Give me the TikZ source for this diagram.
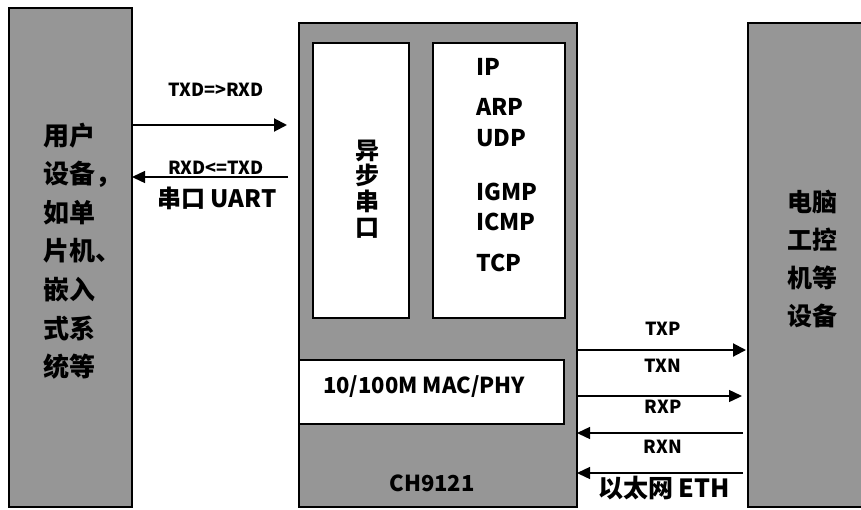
\documentclass[tikz,border=0pt]{standalone}
\usepackage{fontspec}
\setmainfont{Noto Sans CJK SC}
\usetikzlibrary{arrows.meta}
\definecolor{boxgray}{RGB}{150,150,150}
\begin{document}
\begin{tikzpicture}[x=1pt,y=-1pt,
  box/.style={draw=black,line width=2pt,anchor=north west,inner sep=0pt,outer sep=0pt},
  graybox/.style={box,fill=boxgray},
  whitebox/.style={box,fill=white},
  lab/.style={inner sep=0pt,font=\bfseries\fontsize{#1}{#1}\selectfont,text height=0.72em,text depth=0pt},
  cjk/.style={inner sep=0pt,font=\bfseries\fontsize{#1}{#1}\selectfont},
  thick arrow/.style={line width=2pt,-{Triangle[length=13pt,width=13pt]}},
  thin arrow/.style={line width=1.4pt,-{Triangle[length=13pt,width=12pt]}}
]
\useasboundingbox (0,0) rectangle (861,509);
\fill[white] (0,0) rectangle (861,509);
% boxes
\node[graybox,minimum width=123pt,minimum height=499pt] (user) at (9,8) {};
\node[graybox,minimum width=278pt,minimum height=484pt] (chip) at (299,23) {};
\node[whitebox,minimum width=96pt,minimum height=275pt] (uart) at (313,43) {};
\node[whitebox,minimum width=132pt,minimum height=275pt] (proto) at (433,43) {};
\node[whitebox,minimum width=265pt,minimum height=64pt] (mac) at (299,360) {};
\node[graybox,minimum width=130pt,minimum height=484pt] (pc) at (748,23) {};
% texts in boxes
\node[inner sep=0pt,font=\bfseries\fontsize{26}{38.6}\selectfont,anchor=west,align=left] (usertxt) at (43,251)
  {用户\\设备，\\如单\\片机、\\嵌入\\式系\\统等};
\node[inner sep=0pt,font=\bfseries\fontsize{25}{37.7}\selectfont,align=center] (pctxt) at (812,259)
  {电脑\\工控\\机等\\设备};
\node[inner sep=0pt,font=\bfseries\fontsize{24}{25.7}\selectfont,align=center] (uarttxt) at (367,189)
  {异\\步\\串\\口};
\node[lab=23,anchor=west] (ip) at (476,72) {IP};
\node[lab=23,anchor=west] (arp) at (476,112) {ARP};
\node[lab=23,anchor=west] (udp) at (476,143) {UDP};
\node[lab=23,anchor=west] (igmp) at (476,197) {IGMP};
\node[lab=23,anchor=west] (icmp) at (476,227) {ICMP};
\node[lab=23,anchor=west] (tcp) at (476,268) {TCP};
\node[lab=22] (mactxt) at (424,390) {10/100M MAC/PHY};
\node[lab=22] (chiptxt) at (432,488) {CH9121};
% serial connectors
\coordinate (s1) at (287,125);
\coordinate (s2) at (288,177);
\draw[thick arrow] (user.east |- s1) -- (s1);
\draw[thin arrow] (s2) -- (user.east |- s2);
\node[lab=18] (txdlab) at (216,93) {TXD=>RXD};
\node[lab=18] (rxdlab) at (216,171) {RXD<=TXD};
\node[cjk=24] (uartlab) at (217,198) {串口 UART};
% ethernet connectors
\coordinate (e1) at (746,350);
\coordinate (e2) at (742,396);
\coordinate (e3) at (743,433);
\coordinate (e4) at (743,473);
\draw[thick arrow] (chip.east |- e1) -- (e1);
\draw[thin arrow] (chip.east |- e2) -- (e2);
\draw[thin arrow] (e3) -- (chip.east |- e3);
\draw[thin arrow] (e4) -- (chip.east |- e4);
\node[lab=18] (txp) at (663,332) {TXP};
\node[lab=18] (txn) at (663,369) {TXN};
\node[lab=18] (rxp) at (663,410) {RXP};
\node[lab=18] (rxn) at (663,450) {RXN};
\node[cjk=25] (ethlab) at (664,488) {以太网 ETH};
\end{tikzpicture}
\end{document}
